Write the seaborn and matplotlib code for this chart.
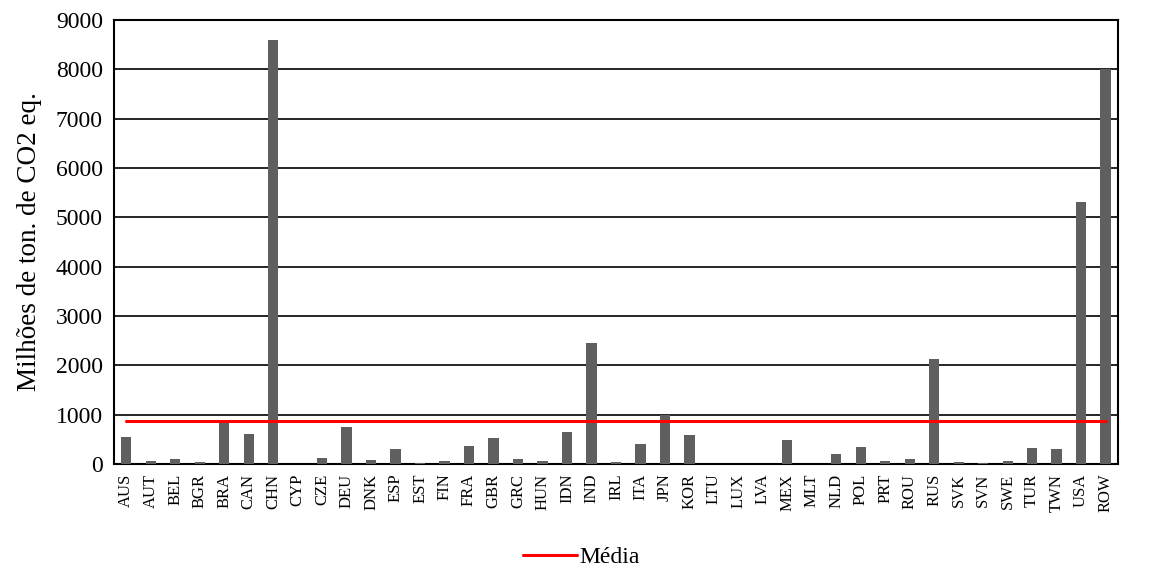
import numpy as np
import pandas as pd
import matplotlib
matplotlib.use("Agg")
import matplotlib.pyplot as plt
import seaborn as sns

countries = ["AUS", "AUT", "BEL", "BGR", "BRA", "CAN", "CHN", "CYP", "CZE", "DEU",
             "DNK", "ESP", "EST", "FIN", "FRA", "GBR", "GRC", "HUN", "IDN", "IND",
             "IRL", "ITA", "JPN", "KOR", "LTU", "LUX", "LVA", "MEX", "MLT", "NLD",
             "POL", "PRT", "ROU", "RUS", "SVK", "SVN", "SWE", "TUR", "TWN", "USA", "ROW"]
emissions = [540, 60, 100, 50, 900, 600, 8600, 5, 120, 750,
             90, 300, 15, 60, 370, 520, 110, 60, 640, 2450,
             40, 400, 1000, 580, 10, 10, 8, 480, 3, 200,
             350, 70, 100, 2130, 40, 15, 60, 330, 300, 5320, 8000]

df = pd.DataFrame({"pais": countries, "valor": emissions})
df["media"] = df["valor"].mean()

sns.set_style("white")
plt.rcParams["font.family"] = ["Liberation Serif", "DejaVu Serif"]
plt.rcParams["text.color"] = "black"
plt.rcParams["axes.labelcolor"] = "black"
plt.rcParams["xtick.color"] = "black"
plt.rcParams["ytick.color"] = "black"

fig, ax = plt.subplots(figsize=(11.56, 5.69), dpi=100)
fig.subplots_adjust(left=0.0986, right=0.967, top=0.965, bottom=0.1845)

sns.barplot(data=df, x="pais", y="valor", color="#5f5f5f", saturation=1,
            width=0.42, linewidth=0, edgecolor="none", ax=ax, zorder=3)
sns.lineplot(data=df, x="pais", y="media", color="#ff0000", linewidth=2.2,
             ax=ax, zorder=4, label="Média")

ax.set_ylim(0, 9000)
ax.set_yticks(np.arange(0, 9001, 1000))
ax.set_xlim(-0.5, len(countries) - 0.5)
ax.yaxis.grid(True, color="black", linewidth=1.2, zorder=0)
ax.set_axisbelow(True)
for s in ax.spines.values():
    s.set_color("black")
    s.set_linewidth(1.5)

ax.set_xlabel("")
ax.set_ylabel("Milhões de ton. de CO2 eq.", fontsize=19.5, labelpad=10)
ax.tick_params(axis="y", labelsize=17, length=0, pad=8)
ax.tick_params(axis="x", labelsize=12, length=0, rotation=90, pad=7)

ax.legend(loc="center", bbox_to_anchor=(0.503, 0.02), bbox_transform=fig.transFigure,
          frameon=False, fontsize=17, handlelength=2.3, handletextpad=0.1,
          borderpad=0)

fig.savefig("out.png", dpi=100)
